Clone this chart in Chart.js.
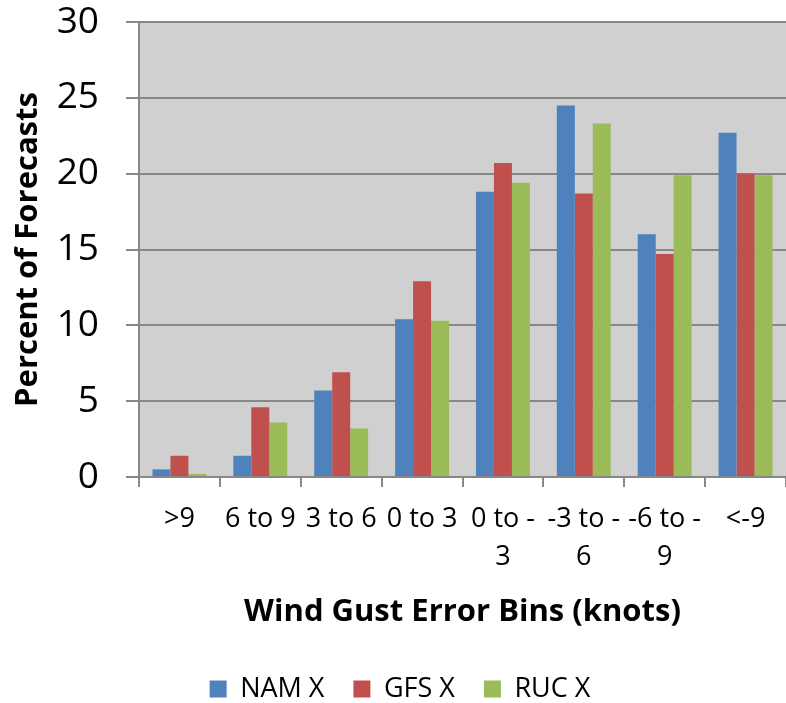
<!DOCTYPE html>
<html>
<head>
<meta charset="utf-8">
<script src="https://cdn.jsdelivr.net/npm/chart.js@4/dist/chart.umd.min.js"></script>
<style>
  html, body { margin: 0; padding: 0; background: #fff; overflow: hidden; }
  #wrap { width: 786px; height: 703px; }
</style>
</head>
<body>
<div id="wrap"><canvas id="gustChart" width="786" height="703"></canvas></div>
<script>
// data
const bins = ['>9', '6 to 9', '3 to 6', '0 to 3', ['0 to -', '3'], ['-3 to -', '6'], ['-6 to -', '9'], '<-9'];
const namX = [0.5, 1.4, 5.7, 10.4, 18.8, 24.5, 16.0, 22.7];
const gfsX = [1.4, 4.6, 6.9, 12.9, 20.7, 18.7, 14.7, 20.0];
const rucX = [0.2, 3.6, 3.2, 10.3, 19.4, 23.3, 19.9, 19.9];
const yTicks = [0, 5, 10, 15, 20, 25, 30];

const FONT = "'Open Sans', 'DejaVu Sans', sans-serif";
const GRID = '#888888';
const LEGEND_PAD = 29;
const LEGEND_SIZE = 27;

// gray plot area
const plotBg = {
    id: 'plotBg',
    beforeDraw(chart) {
        const a = chart.chartArea;
        const c = chart.ctx;
        c.save();
        c.fillStyle = '#d0d0d0';
        c.fillRect(a.left, a.top, a.right - a.left, a.bottom - a.top);
        c.restore();
    }
};

// push the legend row down near the bottom edge, a bit to the right
const legendDown = {
    id: 'legendDown',
    afterLayout(chart) {
        const lg = chart.legend;
        const d = 689 - (lg.top + LEGEND_PAD + LEGEND_SIZE / 2);
        lg.top += d;
        lg.bottom += d;
        lg.left += 7;
        lg.right += 7;
    }
};

const ctx = document.getElementById('gustChart').getContext('2d');
new Chart(ctx, {
    type: 'bar',
    data: {
        labels: bins,
        datasets: [
            { label: 'NAM X', data: namX, backgroundColor: '#4f81bd' },
            { label: 'GFS X', data: gfsX, backgroundColor: '#c0504d' },
            { label: 'RUC X', data: rucX, backgroundColor: '#9bbb59' }
        ]
    },
    options: {
        responsive: false,
        animation: false,
        events: [],
        layout: { padding: { top: 22, right: 0, left: 0, bottom: 0 } },
        datasets: { bar: { categoryPercentage: 0.667, barPercentage: 1.0 } },
        plugins: {
            tooltip: { enabled: false },
            legend: {
                position: 'bottom',
                labels: {
                    boxWidth: 17,
                    boxHeight: 17,
                    padding: LEGEND_PAD,
                    color: '#000',
                    font: { family: FONT, size: LEGEND_SIZE }
                }
            }
        },
        scales: {
            x: {
                afterFit(scale) { scale.height = 226 - scale.chart.legend.height; },
                grid: { drawOnChartArea: false, color: GRID, lineWidth: 2, tickLength: 10, offset: true },
                border: { display: true, color: GRID, width: 2 },
                ticks: {
                    color: '#000',
                    padding: 13,
                    maxRotation: 0,
                    autoSkip: false,
                    font: { family: FONT, size: 27, lineHeight: 1.42 }
                },
                title: {
                    display: true,
                    text: 'Wind Gust Error Bins (knots)',
                    color: '#000',
                    padding: { top: 0, bottom: 6 },
                    font: { family: FONT, size: 31, weight: 'bold' }
                }
            },
            y: {
                min: 0,
                max: 30,
                afterFit(scale) {
                    scale.width = 139;
                    scale.paddingTop = 0;
                },
                afterBuildTicks(scale) { scale.ticks = yTicks.map(v => ({ value: v })); },
                grid: { color: GRID, lineWidth: 2, tickLength: 13 },
                border: { display: true, color: GRID, width: 2 },
                ticks: {
                    color: '#000',
                    padding: 27,
                    font: { family: FONT, size: 37 }
                },
                title: {
                    display: true,
                    text: 'Percent of Forecasts',
                    color: '#000',
                    padding: { top: 10, bottom: 0 },
                    font: { family: FONT, size: 31, weight: 'bold' }
                }
            }
        }
    },
    plugins: [plotBg, legendDown]
});
</script>
</body>
</html>
